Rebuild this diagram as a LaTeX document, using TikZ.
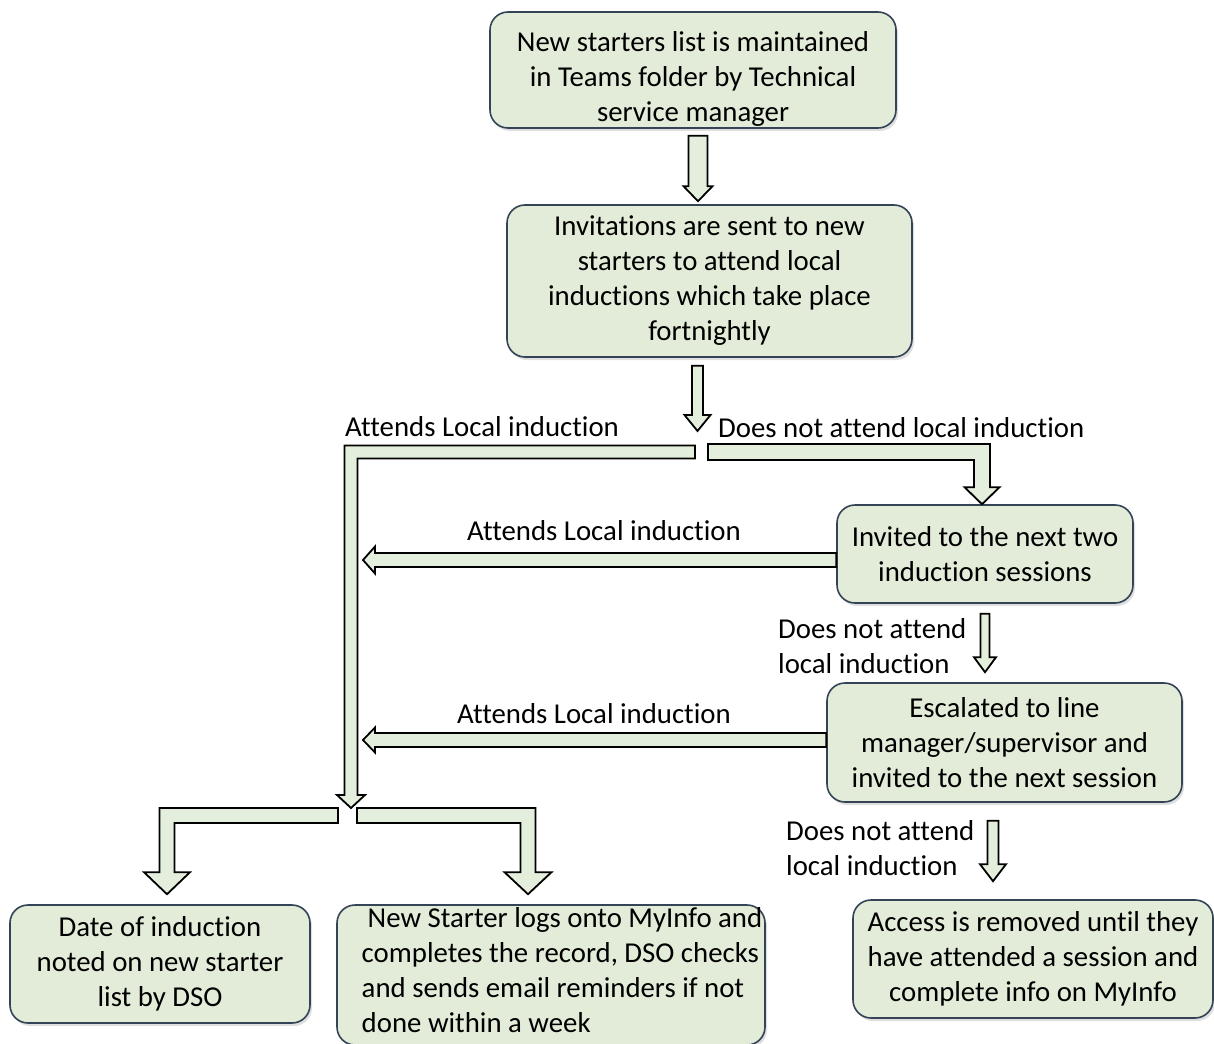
\documentclass[tikz,border=0pt]{standalone}
\usepackage{fontspec}
\setmainfont{Carlito}[Ligatures=NoCommon]
\usetikzlibrary{calc,shadows}

\definecolor{boxfill}{RGB}{226,236,216}
\definecolor{boxline}{RGB}{52,68,86}
\definecolor{arrowfill}{RGB}{228,238,220}

\tikzset{
  stage/.style={draw=boxline, line width=1.6pt, fill=boxfill, rounded corners=18pt,
    align=center, inner sep=4pt,
    drop shadow={shadow xshift=2pt, shadow yshift=-3pt, opacity=0.25}},
  blockarrow/.style={draw=black, line width=1.8pt, fill=arrowfill, line join=miter},
  note/.style={inner sep=0pt}
}

% straight block arrow: start, tip, half shaft, half head, head length
\newcommand{\blockarrow}[5]{%
  \coordinate (ba-s) at (#1);
  \coordinate (ba-t) at (#2);
  \coordinate (ba-h) at ($(ba-t)!#5!(ba-s)$);
  \draw[blockarrow] ($(ba-s)!#3!90:(ba-t)$) -- ($(ba-h)!#3!-90:(ba-s)$)
    -- ($(ba-h)!#4!-90:(ba-s)$) -- (ba-t) -- ($(ba-h)!#4!90:(ba-s)$)
    -- ($(ba-h)!#3!90:(ba-s)$) -- ($(ba-s)!#3!-90:(ba-t)$) -- cycle;}

% bent block arrow, across then down: start, tip, half shaft, half head, head length
\newcommand{\elbowarrow}[5]{%
  \draw[blockarrow] let \p1=(#1), \p2=(#2), \n1={sign(\x2-\x1)} in
    ({\x1},{\y1+#3}) -- ({\x2+\n1*#3},{\y1+#3}) -- ({\x2+\n1*#3},{\y2+#5})
    -- ({\x2+\n1*#4},{\y2+#5}) -- (\p2) -- ({\x2-\n1*#4},{\y2+#5})
    -- ({\x2-\n1*#3},{\y2+#5}) -- ({\x2-\n1*#3},{\y1-#3}) -- ({\x1},{\y1-#3}) -- cycle;}

\begin{document}
\begin{tikzpicture}[x=1pt, y=-1pt, font=\fontsize{28.8}{35}\selectfont]
  \useasboundingbox (0,0) rectangle (1214,1043);

  \node[stage, minimum width=406, minimum height=116,
    label={[align=center, yshift=-9pt]center:{New starters list is maintained\\in Teams folder by Technical\\service manager}}] (list) at (693,70) {};
  \node[stage, minimum width=405, minimum height=152] (inv) at (709.5,281)
    {Invitations are sent to new\\starters to attend local\\inductions which take place\\fortnightly};
  \node[stage, minimum width=296, minimum height=98] (nxt) at (985,554)
    {Invited to the next two\\induction sessions};
  \node[stage, minimum width=355, minimum height=119] (esc) at (1004.5,742.5)
    {Escalated to line\\manager/supervisor and\\invited to the next session};
  \node[stage, minimum width=360, minimum height=118] (acc) at (1033,959)
    {Access is removed until they\\have attended a session and\\complete info on MyInfo};
  \node[stage, minimum width=300, minimum height=118] (dso) at (160,964)
    {Date of induction\\noted on new starter\\list by DSO};
  \node[stage, minimum width=428, minimum height=140,
    label={[align=left, yshift=5pt, xshift=11pt]center:{\hspace*{6pt}New Starter logs onto MyInfo and\\completes the record, DSO checks\\and sends email reminders if not\\done within a week}}] (myinfo) at (551,975) {};

  \coordinate (split) at (697.5,431);
  \coordinate (forkL) at (695,452);
  \coordinate (forkR) at (708,452);
  \coordinate (trunk) at (363,452);
  \coordinate (join) at (351,808);
  \coordinate (joinL) at (338,815.5);
  \coordinate (joinR) at (357,815.5);
  \coordinate (fromNxt) at ($(nxt.west)+(0,6)$);
  \coordinate (fromEsc) at ($(esc.west)+(0,-2.5)$);

  \blockarrow{$(list.south)+(5,7)$}{$(inv.north)+(-11.5,-3)$}{9.5pt}{14.5pt}{15pt}
  \blockarrow{$(inv.south)+(-12,8)$}{split}{5.5pt}{13pt}{16pt}
  \elbowarrow{forkR}{$(nxt.north)+(-3,0)$}{8pt}{17.5pt}{17pt}
  \elbowarrow{forkL}{join}{6.5pt}{14pt}{13pt}
  \blockarrow{fromNxt}{trunk |- fromNxt}{7pt}{13.5pt}{12pt}
  \blockarrow{fromEsc}{trunk |- fromEsc}{7pt}{12.5pt}{12pt}
  \blockarrow{$(nxt.south)+(0,10)$}{$(esc.north)+(-19.5,-10)$}{4.5pt}{11pt}{15pt}
  \blockarrow{$(esc.south)+(-11.5,18)$}{$(acc.north)+(-40,-18)$}{5.5pt}{13pt}{17pt}
  \elbowarrow{joinL}{$(dso.north)+(7,-10)$}{7.5pt}{23pt}{22pt}
  \elbowarrow{joinR}{$(myinfo.north)+(-23,-10)$}{7.5pt}{23.5pt}{22pt}

  \node[note, anchor=base west] (attL) at (345,436) {Attends Local induction};
  \node[note, anchor=base west] (notR) at (718,437) {Does not attend local induction};
  \node[note, anchor=base] (att1) at (604,540) {Attends Local induction};
  \node[note, anchor=base] (att2) at (594,723) {Attends Local induction};
  \node[note, anchor=west, align=left] (not1) at (778,646) {Does not attend\\local induction};
  \node[note, anchor=west, align=left] (not2) at (786,848) {Does not attend\\local induction};
\end{tikzpicture}
\end{document}
